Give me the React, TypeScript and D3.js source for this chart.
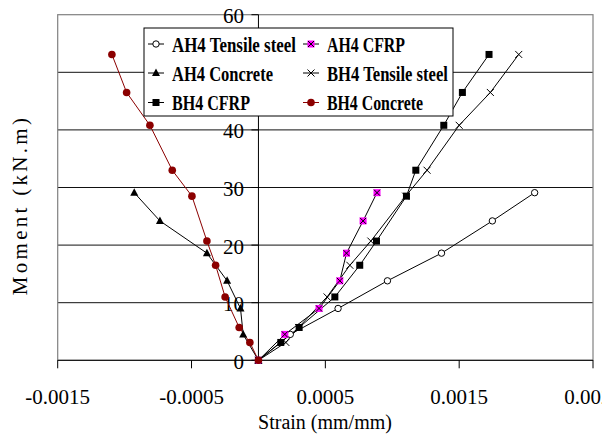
import * as d3 from "d3";

// moment levels (kN.m) shared by the series of each beam
const ah4Moment = [0, 4.5, 9.0, 13.8, 18.6, 24.2, 29.1];
const bh4Moment = [0, 3.1, 5.7, 11.0, 16.5, 20.7, 28.5, 33.0, 40.8, 46.5, 53.1];

// strains (mm/mm)
const ah4Tensile = [0, 0.000238, 0.000595, 0.000964, 0.001368, 0.001748, 0.002064];
const ah4Concrete = [0, -0.000114, -0.000134, -0.000234, -0.000385, -0.000736, -0.000928];
const ah4Cfrp = [0, 0.000197, 0.000453, 0.000608, 0.000658, 0.000782, 0.000886];
const bh4Concrete = [0, -0.000064, -0.000144, -0.000249, -0.00032, -0.000385, -0.000497, -0.000644, -0.000811, -0.000985, -0.001095];
const bh4Cfrp = [0, 0.000167, 0.000304, 0.000571, 0.000757, 0.000882, 0.001106, 0.001176, 0.001385, 0.001524, 0.001723];
const bh4Tensile = [0, 0.000205, 0.0003, 0.000513, 0.000683, 0.00084, 0.0011, 0.00126, 0.0015, 0.001733, 0.001945];

const xTicks = [-0.0015, -0.0005, 0.0005, 0.0015, 0.0025];
const xTickLabels = ["-0.0015", "-0.0005", "0.0005", "0.0015", "0.0025"];
const yTicks = [0, 10, 20, 30, 40, 50, 60];

const W = 602;
const H = 436;
const serif = "Liberation Serif, Times New Roman, Times, DejaVu Serif, serif";
const red = "#8b0000";

type Kind = "open" | "tri" | "sq" | "magenta" | "x" | "dot";

const series: { name: string; xs: number[]; ys: number[]; kind: Kind; color: string }[] = [
  { name: "AH4 Tensile steel", xs: ah4Tensile, ys: ah4Moment, kind: "open", color: "#000" },
  { name: "AH4 Concrete", xs: ah4Concrete, ys: ah4Moment, kind: "tri", color: "#000" },
  { name: "BH4 CFRP", xs: bh4Cfrp, ys: bh4Moment, kind: "sq", color: "#000" },
  { name: "AH4 CFRP", xs: ah4Cfrp, ys: ah4Moment, kind: "magenta", color: "#000" },
  { name: "BH4 Tensile steel", xs: bh4Tensile, ys: bh4Moment, kind: "x", color: "#000" },
  { name: "BH4 Concrete", xs: bh4Concrete, ys: bh4Moment, kind: "dot", color: red },
];

// measured widths of the (narrow) legend labels
const legendWidths = [124, 101, 78, 78, 121, 96];

function Marker({ kind, x, y }: { kind: Kind; x: number; y: number }) {
  if (kind === "open") return <circle cx={x} cy={y} r={3.2} fill="#fff" stroke="#000" strokeWidth={1} />;
  if (kind === "dot") return <circle cx={x} cy={y} r={3.8} fill={red} />;
  if (kind === "tri")
    return <path d={`M${x},${y - 4.5}L${x + 4},${y + 3}L${x - 4},${y + 3}Z`} fill="#000" />;
  if (kind === "sq") return <rect x={x - 3.5} y={y - 3.5} width={7} height={7} fill="#000" />;
  if (kind === "magenta")
    return (
      <g>
        <rect x={x - 3.5} y={y - 3.5} width={7} height={7} fill="#ff00ff" />
        <path d={`M${x - 3},${y - 3}L${x + 3},${y + 3}M${x + 3},${y - 3}L${x - 3},${y + 3}`} stroke="#000" strokeWidth={1} />
      </g>
    );
  return (
    <path d={`M${x - 3.5},${y - 3.5}L${x + 3.5},${y + 3.5}M${x + 3.5},${y - 3.5}L${x - 3.5},${y + 3.5}`} stroke="#000" strokeWidth={1} />
  );
}

export default function App() {
  const x = d3.scaleLinear().domain([-0.0015, 0.0025]).range([57.7, 593]);
  const y = d3.scaleLinear().domain([0, 60]).range([360.3, 14.7]);
  const x0 = x(0);

  const lineGen = (xs: number[], ys: number[]) =>
    d3
      .line<number>()
      .x((d) => x(d))
      .y((_, i) => y(ys[i]))(xs) as string;

  const legendCols = [148, 303];
  const legendRows = [51.5, 80.5, 110];

  return (
    <svg
      width={W}
      height={H}
      style={{ position: "absolute", left: 0, top: 0, background: "#fff", fontFamily: serif }}
    >
      {/* grid */}
      {yTicks.slice(1, -1).map((t) => (
        <line key={t} x1={x.range()[0]} x2={x.range()[1]} y1={y(t)} y2={y(t)} stroke="#111" strokeWidth={1} />
      ))}
      {/* plot border */}
      <rect x={x.range()[0]} y={y(60)} width={x.range()[1] - x.range()[0]} height={y(0) - y(60)} fill="none" stroke="#808080" strokeWidth={1.2} />
      {/* axes */}
      <line x1={x.range()[0]} x2={x.range()[1]} y1={y(0)} y2={y(0)} stroke="#000" />
      <line x1={x0} x2={x0} y1={y(60)} y2={y(0)} stroke="#000" />
      {xTicks.map((t, i) => (
        <g key={t}>
          <line x1={x(t)} x2={x(t)} y1={y(0)} y2={y(0) + 8} stroke="#000" />
          <text x={x(t)} y={404} textAnchor="middle" fontSize={21}>
            {xTickLabels[i]}
          </text>
        </g>
      ))}
      {yTicks.map((t) => (
        <g key={t}>
          <line x1={x0 - 7} x2={x0} y1={y(t)} y2={y(t)} stroke="#000" />
          <text x={244} y={y(t)} dy="0.4em" textAnchor="end" fontSize={21}>
            {t}
          </text>
        </g>
      ))}

      {/* series */}
      {series.map((s) => (
        <path key={s.name} d={lineGen(s.xs, s.ys)} fill="none" stroke={s.color} strokeWidth={1} />
      ))}
      {series.map((s) =>
        s.xs.map((v, i) => <Marker key={s.name + i} kind={s.kind} x={x(v)} y={y(s.ys[i])} />)
      )}

      {/* axis titles */}
      <text x={325} y={429} textAnchor="middle" fontSize={20}>
        Strain (mm/mm)
      </text>
      <text transform="translate(27,205) rotate(-90)" textAnchor="middle" fontSize={21} letterSpacing={3.3}>
        Moment (kN.m)
      </text>

      {/* legend */}
      <rect x={144} y={28} width={309} height={88} fill="#fff" stroke="#000" strokeWidth={1} />
      {series.map((s, i) => {
        const cx = legendCols[Math.floor(i / 3)];
        const by = legendRows[i % 3];
        const sy = by - 7.5;
        return (
          <g key={s.name}>
            <line x1={cx} x2={cx + 16} y1={sy} y2={sy} stroke={s.color} />
            <Marker kind={s.kind} x={cx + 8} y={sy} />
            <text
              x={cx + 24}
              y={by}
              fontWeight="bold"
              fontSize={20}
              textLength={legendWidths[i]}
              lengthAdjust="spacingAndGlyphs"
            >
              {s.name}
            </text>
          </g>
        );
      })}
    </svg>
  );
}
